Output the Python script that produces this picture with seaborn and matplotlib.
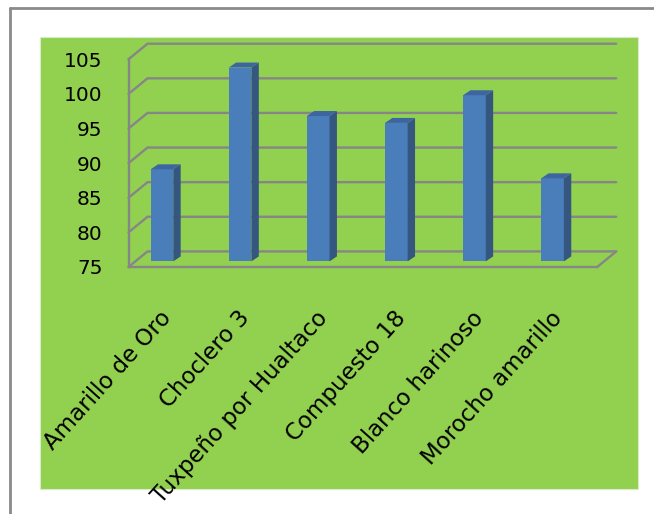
import matplotlib
matplotlib.use("Agg")
import numpy as np
import pandas as pd
import seaborn as sns
import matplotlib.pyplot as plt
from matplotlib.patches import Rectangle, Polygon
from matplotlib.lines import Line2D
from matplotlib.transforms import ScaledTranslation

# ---- data ----
categories = ["Amarillo de Oro", "Choclero 3", "Tuxpeño por Hualtaco",
              "Compuesto 18", "Blanco harinoso", "Morocho amarillo"]
values = [88.3, 103, 96, 95, 99, 87]
y_ticks = [75, 80, 85, 90, 95, 100, 105]

# ---- style ----
sns.set_style("white")
plt.rcParams["font.family"] = ["DejaVu Sans"]

W, H = 654, 514
fig = plt.figure(figsize=(W / 100, H / 100), dpi=100)
fig.patch.set_facecolor("white")

GRID = "#868686"
FRONT = "#4A7EBB"
SIDE = "#34567F"
TOP = "#3D66A0"

def fig_rect(x0, y0, x1, y1):
    return [x0 / W, 1 - y1 / H, (x1 - x0) / W, (y1 - y0) / H]

# outer frame (cut at right/bottom)
fig.add_artist(Line2D([9.5 / W, 9.5 / W], [0, 1 - 8 / H], transform=fig.transFigure,
                      color="#8a8a8a", lw=2.0, zorder=-2))
fig.add_artist(Line2D([9.5 / W, 1], [1 - 8 / H, 1 - 8 / H], transform=fig.transFigure,
                      color="#8a8a8a", lw=2.0, zorder=-2))
# green chart area
gx, gy, gw, gh = fig_rect(40, 37, 638, 489)
fig.add_artist(Rectangle((gx, gy), gw, gh, transform=fig.transFigure,
                         facecolor="#92D050", edgecolor="#d8ecc8", lw=0.8, zorder=-1))

# front plane axes
ax = fig.add_axes(fig_rect(128.5, 59.3, 597.2, 267))
ax.patch.set_alpha(0)

df = pd.DataFrame({"cat": categories, "val": values})
sns.barplot(data=df, x="cat", y="val", color=FRONT, saturation=1, width=0.29, ax=ax)
ax.set_xlim(-0.5, len(categories) - 0.5)
ax.set_ylim(y_ticks[0], y_ticks[-1])

kx = (597.2 - 128.5) / len(categories)   # px per category
ky = (267 - 59.3) / (y_ticks[-1] - y_ticks[0])  # px per unit

# back wall offset
bdx, bdy = 19 / kx, 15.6 / ky
x_left, x_right = -0.5, len(categories) - 0.5
for v in y_ticks:
    ax.plot([x_left, x_left + bdx, x_right + bdx], [v, v + bdy, v + bdy],
            color=GRID, lw=1.7, clip_on=False, zorder=0.5, solid_joinstyle="miter")
ax.plot([x_right, x_right + bdx], [y_ticks[0], y_ticks[0] + bdy],
        color=GRID, lw=1.7, clip_on=False, zorder=0.5)

# bars: shift into depth + side/top faces
trans_bar = ax.transData + ScaledTranslation(-5.6 / 100, 5.6 / 100, fig.dpi_scale_trans)
ddx, ddy = 7.4 / kx, 5.0 / ky
base = y_ticks[0]
for p in list(ax.patches):
    top = p.get_height()
    x0 = p.get_x()
    x1 = x0 + p.get_width()
    p.set_y(base)
    p.set_height(top - base)
    p.set_transform(trans_bar)
    p.set_clip_on(False)
    p.set_edgecolor("none")
    p.set_zorder(3)
    side = Polygon([(x1, base), (x1 + ddx, base + ddy), (x1 + ddx, top + ddy), (x1, top)],
                   closed=True, facecolor=SIDE, edgecolor="none", transform=trans_bar,
                   clip_on=False, zorder=3)
    topf = Polygon([(x0, top), (x1, top), (x1 + ddx, top + ddy), (x0 + ddx, top + ddy)],
                   closed=True, facecolor=TOP, edgecolor="none", transform=trans_bar,
                   clip_on=False, zorder=3)
    ax.add_patch(side)
    ax.add_patch(topf)

# spines and ticks
for s in ["top", "right"]:
    ax.spines[s].set_visible(False)
for s in ["left", "bottom"]:
    ax.spines[s].set_color(GRID)
    ax.spines[s].set_linewidth(1.7)
    ax.spines[s].set_zorder(0.6)

ax.set_yticks(y_ticks)
ax.set_yticklabels([str(t) for t in y_ticks])
ax.tick_params(axis="y", direction="out", length=5.8, width=1.3, color=GRID,
               labelsize=14.5, pad=13, labelcolor="black")
ax.set_xticks(range(len(categories)))
ax.set_xticks(np.arange(-0.5, len(categories)), minor=True)
ax.tick_params(axis="x", which="major", length=0, pad=34, labelsize=16.5, labelcolor="black")
ax.tick_params(axis="x", which="minor", direction="out", length=5.8, width=1.3, color=GRID)
ax.set_xticklabels(categories, rotation=48, ha="right", va="center", rotation_mode="anchor")
ax.set_xlabel("")
ax.set_ylabel("")
ax.grid(False)

fig.savefig("out.png", dpi=100, facecolor="white")
